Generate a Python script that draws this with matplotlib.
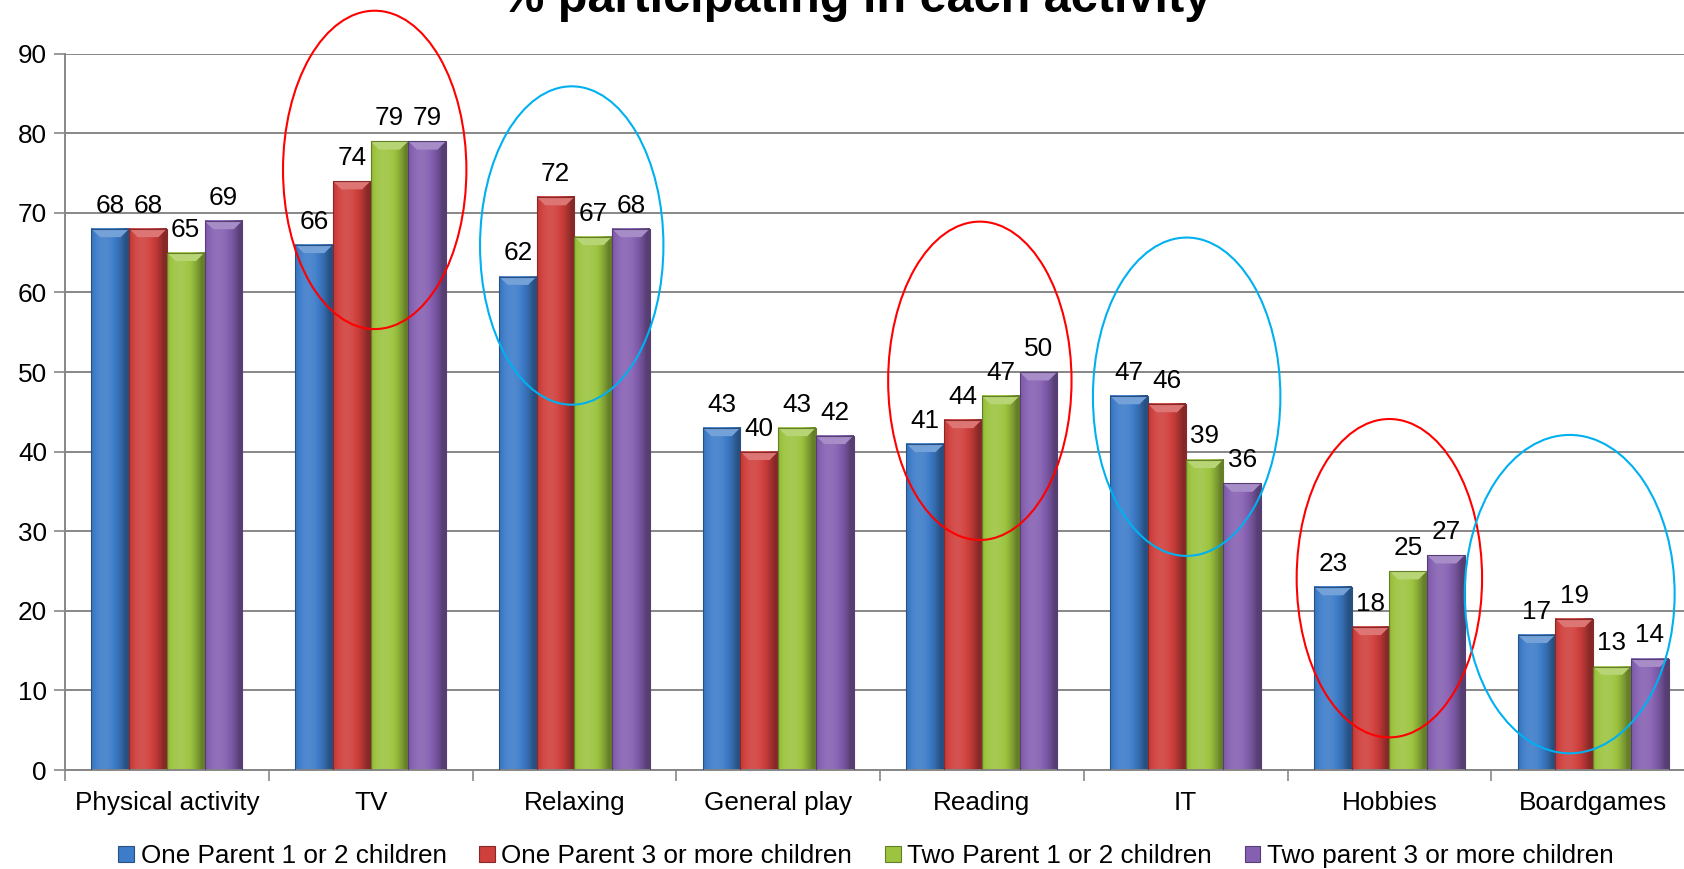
import numpy as np
import matplotlib
matplotlib.use("Agg")
import matplotlib.pyplot as plt
from matplotlib.patches import Rectangle, Polygon, Ellipse
from matplotlib.colors import to_rgb

plt.rcParams['font.family'] = ['Liberation Sans', 'DejaVu Sans']

categories = ["Physical activity", "TV", "Relaxing", "General play",
              "Reading", "IT", "Hobbies", "Boardgames"]
series_names = ["One Parent 1 or 2 children", "One Parent 3 or more children",
                "Two Parent 1 or 2 children", "Two parent 3 or more children"]
one_parent_small = [68, 66, 62, 43, 41, 47, 23, 17]
one_parent_large = [68, 74, 72, 40, 44, 46, 18, 19]
two_parent_small = [65, 79, 67, 43, 47, 39, 25, 13]
two_parent_large = [69, 79, 68, 42, 50, 36, 27, 14]
series_values = [one_parent_small, one_parent_large, two_parent_small, two_parent_large]
series_colors = ["#3d7cc9", "#cf3f3c", "#9cc43f", "#8560b2"]

# highlighted groups: (category index, x shift, width, centre value, colour)
highlights = [(1, 0.02, 0.90, 75.4, "#ff0000"), (2, -0.013, 0.90, 65.9, "#00b0f0"),
              (4, -0.01, 0.90, 48.9, "#ff0000"), (5, 0.005, 0.92, 46.9, "#00b0f0"),
              (6, 0.0, 0.91, 24.1, "#ff0000"), (7, -0.115, 1.03, 22.1, "#00b0f0")]

W, H = 1684, 869
fig = plt.figure(figsize=(W / 100, H / 100), dpi=100)
ax = fig.add_axes([65 / W, 1 - 770 / H, (1695 - 65) / W, (770 - 53.7) / H])

n_cat = len(categories)
bar_w = 0.185
group_w = bar_w * len(series_values)
ax.set_xlim(0, n_cat)
ax.set_ylim(0, 90)


def shade(c, f):
    r = np.array(to_rgb(c))
    if f >= 0:
        return tuple(r + (1 - r) * f)
    return tuple(r * (1 + f))


def bevel_bar(x0, h, color):
    x1 = x0 + bar_w
    # horizontal shading across the bar face
    t = np.linspace(0, 1, 64)
    prof = 0.10 - 0.35 * (t - 0.35) ** 2 * 4
    prof = np.clip(prof, -0.35, 0.12)
    img = np.array([shade(color, p) for p in prof])[None, :, :]
    ax.imshow(img, extent=[x0, x1, 0, h], aspect='auto', zorder=2,
              interpolation='bilinear')
    # bevelled top cap and dark side edges
    bx = 0.042
    by = 1.05
    if h > by:
        ax.add_patch(Polygon([(x0, h), (x1, h), (x1 - bx, h - by), (x0 + bx, h - by)],
                             closed=True, facecolor=shade(color, 0.28),
                             edgecolor='none', zorder=3))
    ax.add_patch(Rectangle((x0, 0), bar_w, h, facecolor='none',
                           edgecolor=shade(color, -0.35), lw=0.8, zorder=4))


for s, (vals, col) in enumerate(zip(series_values, series_colors)):
    for i, v in enumerate(vals):
        x0 = i + 0.5 - group_w / 2 + s * bar_w
        bevel_bar(x0, v, col)
        ax.annotate(f"{v}", (x0 + bar_w / 2, v), xytext=(0, 8),
                    textcoords='offset points', ha='center', va='bottom',
                    fontsize=18.8, color='black', zorder=6)

for ci, dx, ew, cy, col in highlights:
    ax.add_patch(Ellipse((ci + 0.5 + dx, cy), ew, 40, facecolor='none',
                         edgecolor=col, lw=1.5, zorder=7, clip_on=False))

ax.set_xlim(0, n_cat)
ax.set_ylim(0, 90)

ax.set_yticks(np.arange(0, 91, 10))
ax.yaxis.grid(True, color='#878787', lw=1.4, zorder=0)
ax.set_axisbelow(True)
ax.set_xticks(np.arange(n_cat) + 0.5)
ax.set_xticklabels(categories)
ax.set_xticks(np.arange(n_cat + 1), minor=True)
ax.tick_params(axis='x', which='major', length=0, pad=15, labelsize=18.8)
ax.tick_params(axis='x', which='minor', length=8, width=1.2, color='#878787')
ax.tick_params(axis='y', length=8, width=1.2, color='#878787', pad=5, labelsize=18.8)
for side in ('top', 'right'):
    ax.spines[side].set_visible(False)
for side in ('left', 'bottom'):
    ax.spines[side].set_color('#878787')
    ax.spines[side].set_linewidth(1.4)

fig.text(856 / W, 1 - 12 / H, "% participating in each activity",
         ha='center', va='baseline', fontsize=35, fontweight='bold')

handles = [Rectangle((0, 0), 1, 1, facecolor=c, edgecolor=shade(c, -0.35), lw=0.8)
           for c in series_colors]
fig.legend(handles, series_names, loc='center', bbox_to_anchor=(866 / W, 1 - 856 / H),
           ncol=4, frameon=False, fontsize=18.8, handlelength=0.6, handleheight=0.6,
           handletextpad=0.25, columnspacing=1.25, borderaxespad=0, borderpad=0)

fig.savefig("out.png", dpi=100)
